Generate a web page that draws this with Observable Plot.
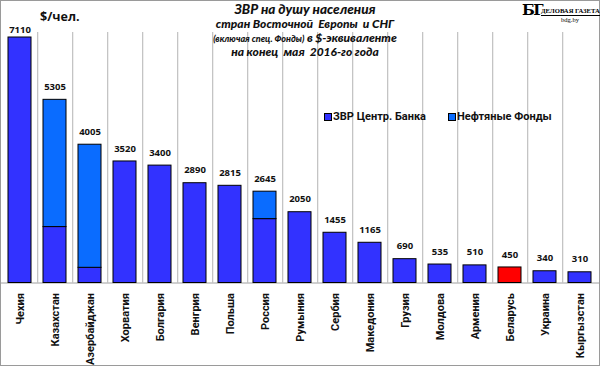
<!DOCTYPE html>
<html><head><meta charset="utf-8">
<script src="https://cdn.jsdelivr.net/npm/d3@7"></script>
<script src="https://cdn.jsdelivr.net/npm/@observablehq/plot@0.6"></script>
<style>
body{margin:0;background:#fff;}
#wrap{position:relative;width:600px;height:366px;}
#wrap svg{outline:1px solid #9a9a9a;outline-offset:-1px;display:block;}
.ov{position:absolute;white-space:nowrap;}
.t{font-family:Lato,"Open Sans",sans-serif;font-style:italic;font-weight:900;color:#111;text-align:center;left:150px;width:310px;}
.lg{font-family:Roboto,"Open Sans",sans-serif;font-weight:700;font-size:11px;color:#111;}
.sq{position:absolute;width:6px;height:6px;border:1px solid #000;}
</style></head>
<body><div id="wrap"></div>
<script>
const countries = ["Чехия","Казахстан","Азербайджан","Хорватия","Болгария","Венгрия","Польша","Россия","Румыния","Сербия","Македония","Грузия","Молдова","Армения","Беларусь","Украина","Кыргызстан"];
const totals    = [7110,5305,4005,3520,3400,2890,2815,2645,2050,1455,1165,690,535,510,450,340,310];
const cbReserves= [7110,1620,440,3520,3400,2890,2815,1850,2050,1455,1165,690,535,510,450,340,310];
const oilFunds  = [0,3685,3565,0,0,0,0,795,0,0,0,0,0,0,0,0,0];
const seriesNames = ["ЗВР Центр. Банка","Нефтяные Фонды"];
const highlight = "Беларусь";

const cbColor = "#3232ff", oilColor = "#0a6cff", redColor = "#ff0000";

const rows = [];
countries.forEach((c,i)=>{
  rows.push({country:c, series:seriesNames[0], value:cbReserves[i]});
  if (oilFunds[i] > 0) rows.push({country:c, series:seriesNames[1], value:oilFunds[i]});
});
const labels = countries.map((c,i)=>({country:c, total:totals[i]}));

const chart = Plot.plot({
  width:600, height:366,
  marginLeft:0, marginRight:0, marginTop:32, marginBottom:83.5,
  x:{domain:countries, paddingInner:0.33, paddingOuter:0.165, label:null},
  y:{domain:[0,7255], axis:null},
  style:{background:"#fff"},
  marks:[
    Plot.ruleX(countries.slice(0,-1), {x:d=>d, dx:600/17/2, stroke:"#c4c4c4", strokeWidth:1.3}),
    Plot.ruleY([0], {stroke:"#a0a0a0"}),
    Plot.barY(rows, {x:"country", y:"value",
      fill:d=>d.country===highlight?redColor:(d.series===seriesNames[0]?cbColor:oilColor),
      stroke:"#000", strokeWidth:1}),
    Plot.text(labels.slice(1), {x:"country", y:"total", text:d=>String(d.total), dy:-13,
      fontFamily:"Open Sans", fontWeight:700, fontSize:9.5, fill:"#111"}),
    Plot.text(labels.slice(0,1), {x:"country", y:"total", text:d=>String(d.total), dy:-8,
      fontFamily:"Open Sans", fontWeight:700, fontSize:9.5, fill:"#111"}),
    Plot.axisX({tickSize:0, tickPadding:10, tickRotate:-90, fontFamily:"Roboto", fontWeight:700, fontSize:11, fill:"#111", label:null})
  ]
});
const wrap = document.getElementById("wrap");
wrap.appendChild(chart);

function ov(html, cls, style){const d=document.createElement("div");d.className="ov "+(cls||"");d.innerHTML=html;d.setAttribute("style",style);wrap.appendChild(d);return d;}
ov("ЗВР на душу населения","t","top:1px;font-size:13.5px;");
ov("стран Восточной&nbsp; Европы&nbsp; и СНГ","t","top:16px;font-size:12px;");
ov('<span style="font-size:9px">(включая спец. Фонды)</span> в $-эквиваленте',"t","top:30px;font-size:12px;");
ov("на конец&nbsp; мая&nbsp; 2016-го года","t","top:44px;font-size:12px;");
ov("$/чел.","", "left:40px;top:8px;font-family:'Open Sans';font-weight:700;font-size:12.5px;color:#111;");
// legend
ov("","sq","left:324px;top:113px;background:"+cbColor+";");
ov(seriesNames[0],"lg","left:333px;top:110px;");
ov("","sq","left:448px;top:113px;background:"+oilColor+";");
ov(seriesNames[1],"lg","left:457px;top:110px;");
// logo
ov("БГ","", "left:522px;top:0px;font-family:'DejaVu Serif',serif;font-weight:700;font-size:15px;line-height:20px;color:#000;letter-spacing:-1.5px;");
ov("ДЕЛОВАЯ ГАЗЕТА","", "left:541px;top:7px;font-family:'Liberation Serif',serif;font-weight:700;font-size:6.6px;color:#000;border-bottom:1px solid #000;line-height:8px;");
ov("bdg.by","", "left:561px;top:16px;font-family:'Liberation Serif',serif;font-size:6.5px;line-height:8px;color:#000;");
</script></body></html>
